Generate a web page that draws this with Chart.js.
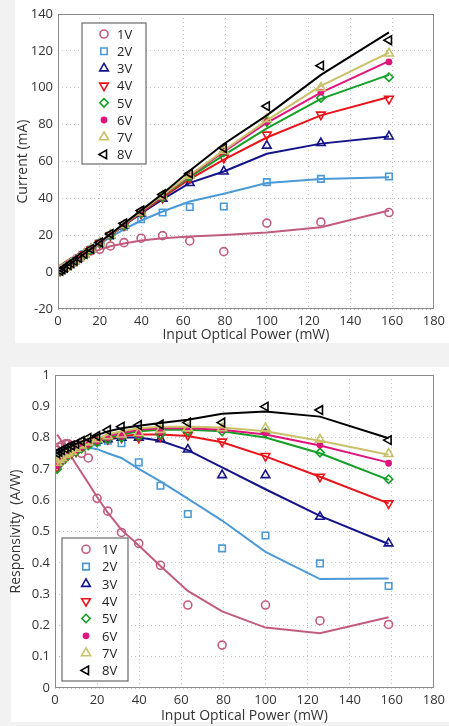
<!DOCTYPE html>
<html>
<head>
<meta charset="utf-8">
<script src="https://cdn.jsdelivr.net/npm/chart.js@4.4.1/dist/chart.umd.min.js"></script>
<style>
  html, body { margin: 0; padding: 0; background: #f2f2f2; }
  #page { position: relative; width: 449px; height: 726px; overflow: hidden; }
  .panel { position: absolute; background: #fff; }
  canvas { position: absolute; left: 0; }
</style>
</head>
<body>
<div id="page">
  <div class="panel" style="left:15px;top:0;width:434px;height:343px"></div>
  <div class="panel" style="left:11px;top:367px;width:438px;height:355px"></div>
  <canvas id="currentChart" width="449" height="345" style="top:0"></canvas>
  <canvas id="respChart" width="449" height="366" style="top:360px"></canvas>
</div>
<script>
// measured points (mW) and the x positions where the fit curves are drawn
const powerMw = [1, 2, 3.2, 5, 6.3, 7.9, 10, 12.6, 15.8, 20, 25.1, 31.6, 39.8, 50.1, 63.1, 79.4, 100, 125.9, 158.5];
const fitPowerMw = [1, 5, 10, 15.8, 20, 25.1, 31.6, 39.8, 50.1, 63.1, 79.4, 100, 125.9, 158.5];

const seriesLabels = ['1V', '2V', '3V', '4V', '5V', '6V', '7V', '8V'];
const powerTicks = [0, 20, 40, 60, 80, 100, 120, 140, 160, 180];
const currentTicks = [-20, 0, 20, 40, 60, 80, 100, 120, 140];
const respTicks = [0, 0.1, 0.2, 0.3, 0.4, 0.5, 0.6, 0.7, 0.8, 0.9, 1];

// photocurrent markers (mA)
const cur1V = [0.76, 1.5, 2.5, 3.9, 4.9, 6.1, 7.6, 9.5, 11.6, 12.4, 14.2, 16, 18.4, 19.8, 16.9, 11.1, 26.6, 27.1, 32.3];
const cur2V = [0.75, 1.5, 2.4, 3.8, 4.8, 6.0, 7.7, 9.8, 12.3, 15.7, 19.8, 24.7, 28.7, 32.3, 35.3, 35.6, 48.8, 50.6, 51.9];
const cur3V = [0.72, 1.5, 2.4, 3.8, 4.8, 6.0, 7.7, 9.8, 12.4, 15.8, 20, 25.3, 31.8, 39.8, 48.3, 54.6, 68.6, 70, 73.6];
const cur4V = [0.7, 1.4, 2.3, 3.7, 4.7, 5.9, 7.6, 9.7, 12.3, 15.8, 20, 25.3, 31.8, 40.3, 51, 62, 74.6, 85.4, 94];
const cur5V = [0.7, 1.4, 2.3, 3.7, 4.7, 5.9, 7.6, 9.6, 12.2, 15.7, 20, 25.3, 32, 40.6, 51.7, 65, 81.5, 94.5, 105.7];
const cur6V = [0.71, 1.4, 2.3, 3.7, 4.7, 5.9, 7.6, 9.7, 12.3, 15.8, 20.1, 25.4, 32.2, 41, 52.4, 65.5, 81.6, 97.6, 114];
const cur7V = [0.72, 1.5, 2.4, 3.7, 4.7, 6.0, 7.7, 9.8, 12.4, 15.9, 20.2, 25.6, 32.4, 41.3, 52.4, 65.9, 83, 100, 118.6];
const cur8V = [0.75, 1.5, 2.4, 3.8, 4.9, 6.1, 7.8, 9.9, 12.6, 16.1, 20.7, 26.4, 33.4, 42.2, 53.5, 67.3, 90, 112, 125.8];

// photocurrent fit curves (mA)
const curFit1V = [0.8, 3.9, 7.2, 10.4, 12.2, 14, 15.5, 17.1, 18.4, 19.3, 20.2, 21.5, 24.4, 33.4];
const curFit2V = [0.75, 3.8, 7.7, 12.1, 15.3, 19, 23.2, 28, 32.9, 38.3, 42.5, 48.3, 50.5, 51.4];
const curFit3V = [0.72, 3.7, 7.7, 12.3, 15.8, 20, 25.3, 31.8, 39.5, 48.4, 54.6, 64.2, 69.7, 73.6];
const curFit4V = [0.72, 3.7, 7.6, 12.3, 15.8, 20, 25.4, 32.2, 40.5, 50.5, 61, 73, 85, 95];
const curFit5V = [0.71, 3.65, 7.55, 12.2, 15.8, 20.1, 25.6, 32.6, 41.3, 51.5, 63.5, 78, 94, 107];
const curFit6V = [0.71, 3.65, 7.55, 12.2, 15.8, 20.2, 25.8, 32.8, 41.6, 52.3, 65.3, 81, 97.4, 114.4];
const curFit7V = [0.72, 3.7, 7.6, 12.3, 15.9, 20.3, 26, 33.1, 41.8, 52.7, 66, 82.3, 101, 119];
const curFit8V = [0.75, 3.9, 7.8, 12.6, 16.2, 20.6, 26.3, 33.5, 42.5, 55, 69.5, 85, 107, 130];

// responsivity markers (A/W)
const resp1V = [0.76, 0.77, 0.775, 0.78, 0.78, 0.775, 0.76, 0.75, 0.735, 0.606, 0.565, 0.497, 0.462, 0.392, 0.265, 0.137, 0.265, 0.215, 0.203];
const resp2V = [0.745, 0.75, 0.755, 0.76, 0.765, 0.765, 0.77, 0.775, 0.78, 0.785, 0.79, 0.782, 0.721, 0.646, 0.556, 0.446, 0.487, 0.398, 0.326];
const resp3V = [0.72, 0.73, 0.74, 0.75, 0.755, 0.76, 0.765, 0.775, 0.785, 0.79, 0.795, 0.8, 0.8, 0.795, 0.762, 0.68, 0.68, 0.547, 0.462];
const resp4V = [0.705, 0.715, 0.725, 0.735, 0.745, 0.75, 0.755, 0.77, 0.78, 0.79, 0.795, 0.8, 0.8, 0.805, 0.808, 0.787, 0.741, 0.675, 0.59];
const resp5V = [0.7, 0.715, 0.725, 0.735, 0.745, 0.75, 0.755, 0.765, 0.775, 0.785, 0.795, 0.8, 0.805, 0.81, 0.82, 0.82, 0.815, 0.752, 0.667];
const resp6V = [0.71, 0.72, 0.73, 0.74, 0.745, 0.75, 0.76, 0.77, 0.78, 0.79, 0.8, 0.805, 0.81, 0.82, 0.83, 0.825, 0.816, 0.776, 0.718];
const resp7V = [0.72, 0.73, 0.735, 0.745, 0.75, 0.755, 0.765, 0.775, 0.785, 0.795, 0.805, 0.81, 0.815, 0.825, 0.83, 0.83, 0.83, 0.794, 0.748];
const resp8V = [0.75, 0.755, 0.76, 0.765, 0.77, 0.775, 0.78, 0.789, 0.799, 0.805, 0.824, 0.835, 0.84, 0.842, 0.848, 0.848, 0.899, 0.888, 0.792];

// responsivity fit curves (A/W)
const respFit1V = [0.81, 0.77, 0.715, 0.655, 0.61, 0.56, 0.505, 0.455, 0.39, 0.31, 0.245, 0.193, 0.175, 0.226];
const respFit2V = [0.745, 0.765, 0.77, 0.768, 0.763, 0.75, 0.735, 0.7, 0.66, 0.605, 0.535, 0.435, 0.348, 0.35];
const respFit3V = [0.72, 0.74, 0.765, 0.78, 0.79, 0.795, 0.8, 0.8, 0.79, 0.76, 0.705, 0.635, 0.55, 0.46];
const respFit4V = [0.715, 0.735, 0.76, 0.78, 0.79, 0.797, 0.805, 0.81, 0.81, 0.805, 0.785, 0.74, 0.675, 0.59];
const respFit5V = [0.71, 0.73, 0.755, 0.775, 0.79, 0.8, 0.81, 0.82, 0.825, 0.825, 0.82, 0.8, 0.75, 0.665];
const respFit6V = [0.71, 0.73, 0.755, 0.775, 0.79, 0.805, 0.815, 0.825, 0.83, 0.83, 0.825, 0.81, 0.775, 0.72];
const respFit7V = [0.715, 0.735, 0.76, 0.78, 0.795, 0.81, 0.82, 0.83, 0.835, 0.835, 0.832, 0.82, 0.79, 0.745];
const respFit8V = [0.75, 0.765, 0.78, 0.795, 0.808, 0.82, 0.83, 0.838, 0.847, 0.857, 0.876, 0.883, 0.867, 0.798];

const curPoints = [cur1V, cur2V, cur3V, cur4V, cur5V, cur6V, cur7V, cur8V];
const curFits = [curFit1V, curFit2V, curFit3V, curFit4V, curFit5V, curFit6V, curFit7V, curFit8V];
const respPoints = [resp1V, resp2V, resp3V, resp4V, resp5V, resp6V, resp7V, resp8V];
const respFits = [respFit1V, respFit2V, respFit3V, respFit4V, respFit5V, respFit6V, respFit7V, respFit8V];

const markerStyles = [
  { color: '#c25b7d', shape: 'circle', radius: 4, rotation: 0, filled: false },
  { color: '#4a9ad8', shape: 'rect', radius: 4.6, rotation: 0, filled: false },
  { color: '#14148a', shape: 'triangle', radius: 5, rotation: 0, filled: false },
  { color: '#e8141a', shape: 'triangle', radius: 5, rotation: 180, filled: false },
  { color: '#14a024', shape: 'rectRot', radius: 4.2, rotation: 0, filled: false },
  { color: '#e0147c', shape: 'circle', radius: 2.6, rotation: 0, filled: true },
  { color: '#c9c168', shape: 'triangle', radius: 5.2, rotation: 0, filled: false },
  { color: '#000000', shape: 'triangle', radius: 5, rotation: -90, filled: false }
];

Chart.defaults.font.family = '"Open Sans", sans-serif';
Chart.defaults.font.size = 13;
Chart.defaults.color = '#333';

// box around the plot and the boxed legend inside it
const frameLegend = {
  id: 'frameLegend',
  afterDatasetsDraw(chart, args, opts) {
    const { ctx, chartArea: a } = chart;
    ctx.save();
    ctx.strokeStyle = '#8a8a8a';
    ctx.lineWidth = 1;
    ctx.strokeRect(Math.round(a.left) + 0.5, Math.round(a.top) + 0.5,
      Math.round(a.right - a.left) - 1, Math.round(a.bottom - a.top) - 1);

    const b = opts.box;
    ctx.fillStyle = '#fff';
    ctx.fillRect(b.x, b.y, b.w, b.h);
    ctx.strokeStyle = '#6a6a6a';
    ctx.lineWidth = 1.2;
    ctx.strokeRect(b.x, b.y, b.w, b.h);
    ctx.font = '13px "Open Sans", sans-serif';
    ctx.textBaseline = 'middle';
    ctx.textAlign = 'left';
    seriesLabels.forEach((lab, i) => {
      const st = markerStyles[i];
      const y = b.y + b.first + i * b.step;
      ctx.strokeStyle = st.color;
      ctx.fillStyle = st.filled ? st.color : 'rgba(0,0,0,0)';
      ctx.lineWidth = 1.6;
      Chart.helpers.drawPoint(ctx, {
        pointStyle: st.shape, radius: st.radius, rotation: st.rotation, borderWidth: 1.6
      }, b.x + b.markerX, y);
      ctx.fillStyle = '#222';
      ctx.fillText(lab, b.x + b.textX, y + 1);
    });
    ctx.restore();
  }
};

function buildDatasets(points, fits) {
  const sets = [];
  seriesLabels.forEach((lab, i) => {
    const st = markerStyles[i];
    sets.push({
      label: lab,
      data: powerMw.map((x, k) => ({ x: x, y: points[i][k] })),
      showLine: false,
      pointStyle: st.shape,
      pointRadius: st.radius,
      pointRotation: st.rotation,
      pointBorderWidth: 1.6,
      pointBorderColor: st.color,
      pointBackgroundColor: st.filled ? st.color : 'rgba(0,0,0,0)',
      order: 8 - i
    });
    sets.push({
      label: lab + ' fit',
      data: fitPowerMw.map((x, k) => ({ x: x, y: fits[i][k] })),
      showLine: true,
      pointRadius: 0,
      borderColor: st.color,
      borderWidth: 2,
      tension: 0,
      order: 8 - i
    });
  });
  return sets;
}

function buildOptions(cfg) {
  return {
    responsive: false,
    animation: false,
    events: [],
    layout: { padding: { top: cfg.padTop, right: 10, left: 0, bottom: 0 } },
    plugins: {
      legend: { display: false },
      tooltip: { enabled: false },
      frameLegend: { box: cfg.legendBox }
    },
    scales: {
      x: {
        type: 'linear',
        min: 0,
        max: 180,
        afterBuildTicks: (s) => { s.ticks = powerTicks.map(v => ({ value: v })); },
        afterFit: (s) => { s.height = cfg.xHeight; },
        ticks: { padding: 4, callback: (v) => String(v) },
        grid: { color: '#c4c4c4', drawTicks: false },
        border: { display: false, dash: [1, 3] },
        title: { display: true, text: 'Input Optical Power (mW)', font: { size: 14 }, color: '#333', padding: { top: 0, bottom: 2 } }
      },
      y: {
        type: 'linear',
        min: cfg.yTicks[0],
        max: cfg.yTicks[cfg.yTicks.length - 1],
        afterBuildTicks: (s) => { s.ticks = cfg.yTicks.map(v => ({ value: v })); },
        afterFit: (s) => { s.width = cfg.yWidth; },
        ticks: { padding: 5, callback: (v) => String(+v.toFixed(1)) },
        grid: { color: '#c4c4c4', drawTicks: false },
        border: { display: false, dash: [1, 3] },
        title: { display: true, text: cfg.yTitle, font: { size: 14 }, color: '#333', padding: { top: cfg.yTitlePad, bottom: 0 } }
      }
    }
  };
}

new Chart(document.getElementById('currentChart'), {
  type: 'scatter',
  data: { datasets: buildDatasets(curPoints, curFits) },
  options: buildOptions({
    padTop: 14, xHeight: 36, yWidth: 58, yTicks: currentTicks,
    yTitle: 'Current (mA)', yTitlePad: 15,
    legendBox: { x: 82, y: 23, w: 64, h: 141, first: 11, step: 17.2, markerX: 22, textX: 35 }
  }),
  plugins: [frameLegend]
});

new Chart(document.getElementById('respChart'), {
  type: 'scatter',
  data: { datasets: buildDatasets(respPoints, respFits) },
  options: buildOptions({
    padTop: 15, xHeight: 38, yWidth: 55, yTicks: respTicks,
    yTitle: 'Responsivity  (A/W)', yTitlePad: 7.6,
    legendBox: { x: 62, y: 178, w: 66, h: 143, first: 11.3, step: 17.3, markerX: 24, textX: 40 }
  }),
  plugins: [frameLegend]
});
</script>
</body>
</html>
